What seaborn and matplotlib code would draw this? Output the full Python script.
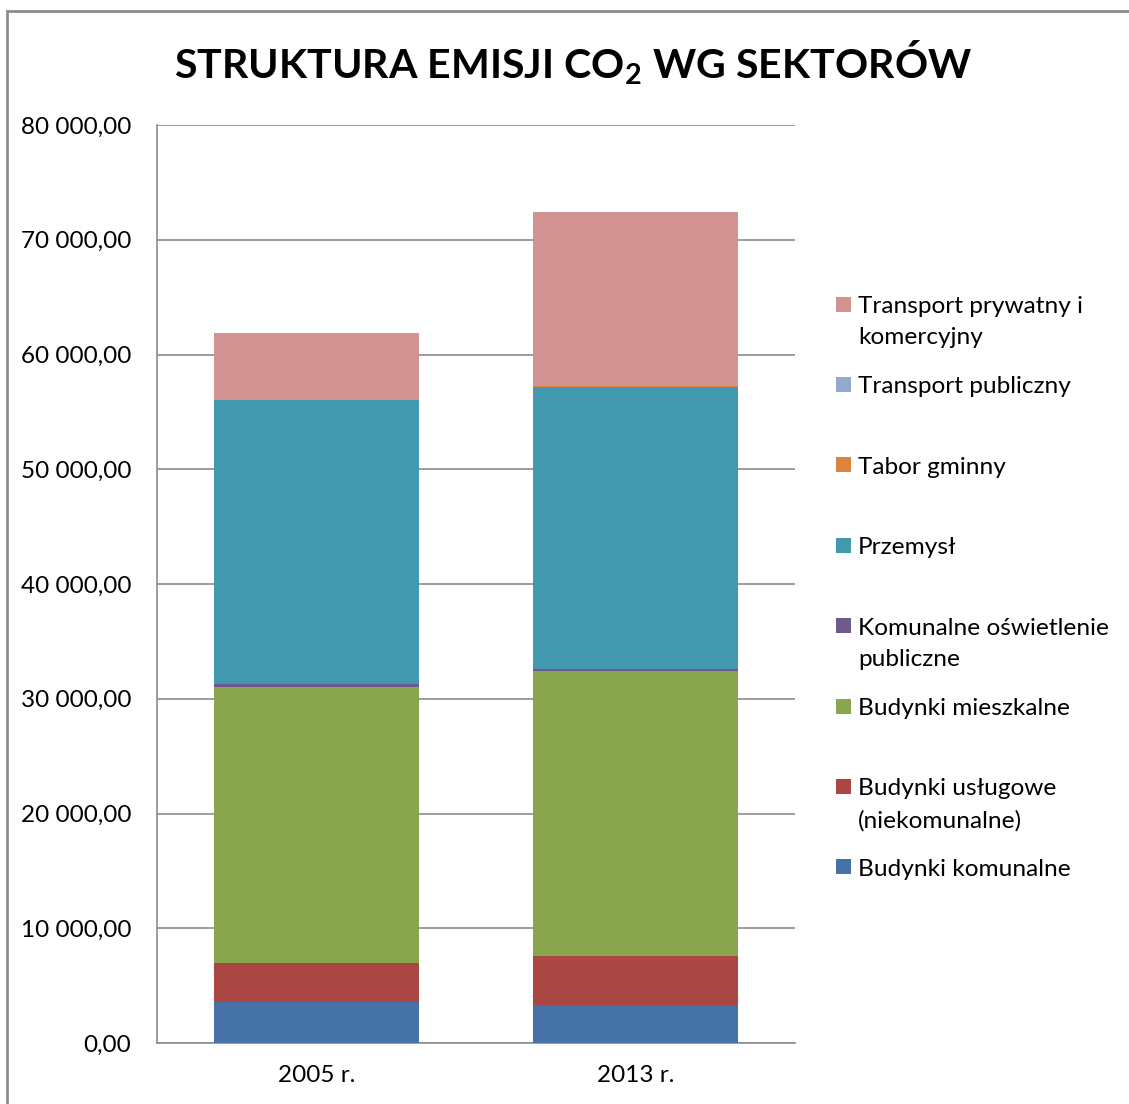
import numpy as np
import pandas as pd
import matplotlib
matplotlib.use('Agg')
import matplotlib.pyplot as plt
import seaborn as sns
from matplotlib.patches import Rectangle
from matplotlib.ticker import FuncFormatter

years = ['2005 r.', '2013 r.']
sectors = ['Budynki komunalne', 'Budynki usługowe\n(niekomunalne)', 'Budynki mieszkalne',
           'Komunalne oświetlenie\npubliczne', 'Przemysł', 'Tabor gminny',
           'Transport publiczny', 'Transport prywatny i\nkomercyjny']
values_2005 = [3575, 3374, 24115, 262, 24672, 5, 40, 5789]
values_2013 = [3252, 4359, 24795, 227, 24575, 5, 113, 15118]
colors = ['#4572A7', '#AA4643', '#89A54E', '#71588F', '#4198AF', '#DB843D', '#93A9CF', '#D19392']

df = pd.DataFrame({'sector': sectors * 2,
                   'year': [years[0]] * len(sectors) + [years[1]] * len(sectors),
                   'value': values_2005 + values_2013})
wide = df.pivot(index='year', columns='sector', values='value')[sectors]
cum = wide.cumsum(axis=1)

sns.set_style('white')
plt.rcParams['font.family'] = ['Lato', 'DejaVu Sans']
plt.rcParams['text.color'] = 'black'

fig = plt.figure(figsize=(11.29, 11.04), dpi=100)
ax = fig.add_axes([157 / 1129, 1 - 1043 / 1104, 638 / 1129, 918 / 1104])

# draw stacked bars from top of stack downwards so lower segments cover upper
for i in range(len(sectors) - 1, -1, -1):
    sns.barplot(x=wide.index, y=cum[sectors[i]].values, color=colors[i], width=0.64,
                ax=ax, saturation=1, zorder=3, linewidth=0, edgecolor='none')

ax.set_ylim(0, 80000)
ax.set_yticks(np.arange(0, 80001, 10000))
ax.yaxis.set_major_formatter(FuncFormatter(lambda v, p: f'{v:,.2f}'.replace(',', ' ').replace('.', ',')))
ax.yaxis.grid(True, color='#8c8c8c', linewidth=1.2, zorder=0)
ax.set_axisbelow(True)
for s in ['top', 'right']:
    ax.spines[s].set_visible(False)
for s in ['left', 'bottom']:
    ax.spines[s].set_color('#8c8c8c')
    ax.spines[s].set_linewidth(1.2)
ax.tick_params(axis='both', length=0, labelsize=17.5, colors='#000000')
ax.tick_params(axis='y', pad=18.5)
ax.tick_params(axis='x', pad=16)
ax.set_xlabel('')
ax.set_ylabel('')

fig.text(573 / 1129, 1 - 63 / 1104, 'STRUKTURA EMISJI CO$_\\mathregular{2}$ WG SEKTORÓW',
         ha='center', va='center', fontsize=29.6, fontweight='bold', color='black')

# legend, top entry first, first lines evenly spaced
y0 = 1 - 304 / 1104
step = 80.4 / 1104
for k, i in enumerate(range(len(sectors) - 1, -1, -1)):
    y = y0 - k * step
    fig.patches.append(Rectangle((836 / 1129, y - 7.5 / 1104), 15 / 1129, 15 / 1104,
                                 transform=fig.transFigure, facecolor=colors[i], edgecolor='none'))
    fig.text(858 / 1129, y + 8 / 1104, sectors[i], ha='left', va='top', fontsize=17.6,
             linespacing=1.6, color='black')

fig.patches.append(Rectangle((7 / 1129, -0.05), 1.2, 1.05 - 11 / 1104, transform=fig.transFigure,
                             fill=False, edgecolor='#8c8c8c', linewidth=2))

fig.savefig('out.png', dpi=100)
